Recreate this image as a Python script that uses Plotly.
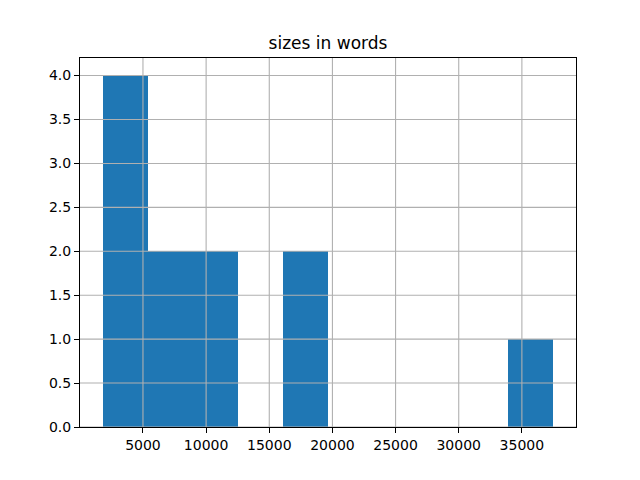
import plotly.graph_objects as go

# Histogram data
bin_edges = [1800, 5370, 8940, 12510, 16080, 19650, 23220, 26790, 30360, 33930, 37500]
counts = [4, 2, 2, 0, 2, 0, 0, 0, 0, 1]
x_ticks = [5000, 10000, 15000, 20000, 25000, 30000, 35000]
y_ticks = [0, 0.5, 1.0, 1.5, 2.0, 2.5, 3.0, 3.5, 4.0]
title = "sizes in words"

centers = [(a + b) / 2 for a, b in zip(bin_edges[:-1], bin_edges[1:])]
widths = [b - a for a, b in zip(bin_edges[:-1], bin_edges[1:])]
nz = [i for i, c in enumerate(counts) if c > 0]

span = bin_edges[-1] - bin_edges[0]
x_range = [bin_edges[0] - 0.05 * span, bin_edges[-1] + 0.05 * span]
y_range = [0, max(counts) * 1.05]

fig = go.Figure()
fig.add_trace(go.Bar(x=[centers[i] for i in nz], y=[counts[i] for i in nz],
                     width=[widths[i] for i in nz],
                     marker=dict(color="#1f77b4", line=dict(width=0)),
                     showlegend=False))

grid_color = "#b0b0b0"
shapes = []
for t in x_ticks:
    shapes.append(dict(type="line", xref="x", yref="paper", x0=t, x1=t, y0=0, y1=1,
                       line=dict(color=grid_color, width=1.1), layer="above"))
for t in y_ticks:
    shapes.append(dict(type="line", xref="paper", yref="y", x0=0, x1=1, y0=t, y1=t,
                       line=dict(color=grid_color, width=1.1), layer="above"))

W, H = 632, 472
fig.update_layout(
    width=W, height=H,
    margin=dict(l=72, r=64, t=50, b=53),
    paper_bgcolor="white", plot_bgcolor="white",
    font=dict(family="DejaVu Sans", size=14, color="black"),
    title=dict(text=title, x=0.5, xref="paper", xanchor="center",
               y=1 - 35 / H, yref="container", yanchor="middle",
               font=dict(size=17, family="DejaVu Sans", color="black")),
    shapes=shapes,
    bargap=0,
)
fig.update_xaxes(range=x_range, tickvals=x_ticks, ticktext=[str(t) for t in x_ticks],
                 showgrid=False, zeroline=False, showline=True, mirror=True,
                 linecolor="black", linewidth=1, ticks="outside", ticklen=5,
                 tickwidth=1, tickcolor="black", tickfont=dict(size=14))
fig.update_yaxes(range=y_range, tickvals=y_ticks, ticktext=[f"{t:.1f}" for t in y_ticks],
                 showgrid=False, zeroline=False, showline=True, mirror=True,
                 linecolor="black", linewidth=1, ticks="outside", ticklen=5,
                 tickwidth=1, tickcolor="black", tickfont=dict(size=14))

fig.write_html("out.html")
